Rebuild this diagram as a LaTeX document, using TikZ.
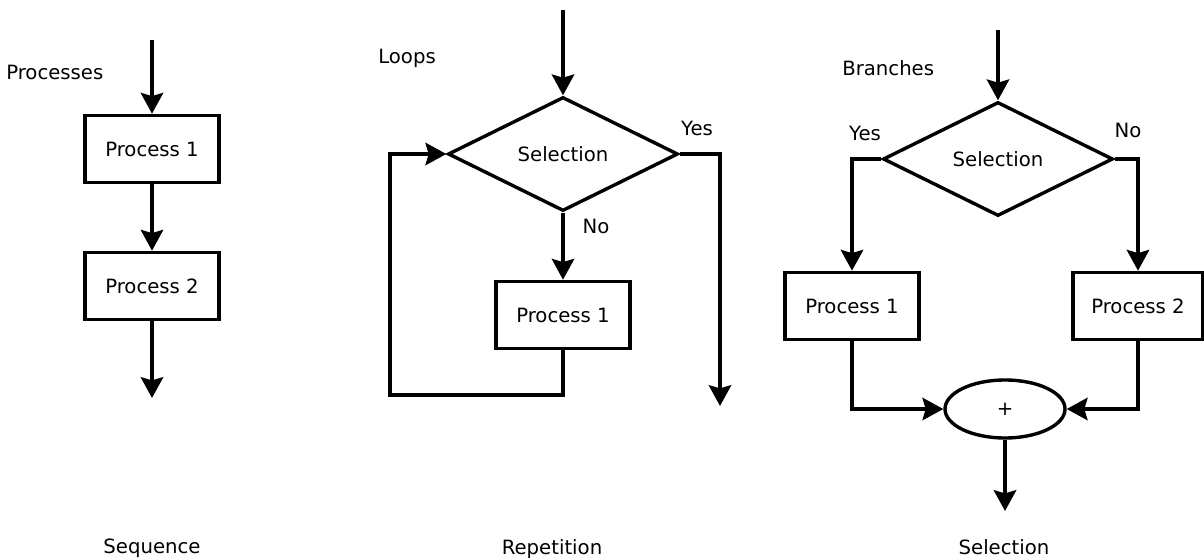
\documentclass[tikz,border=0pt]{standalone}
\usepackage{fontspec}
\setmainfont{DejaVu Sans}
\usepackage{tikz}
\usepackage{xcolor}
\usetikzlibrary{arrows.meta, positioning, shapes.geometric, calc}
\definecolor{chartInk}{RGB}{0,0,0}
\tikzset{
    procbox/.style={
        rectangle,
        draw=chartInk,
        line width=0.85mm,
        align=center,
        fill=white,
        minimum width=3.35cm,
        minimum height=1.68cm,
        font=\fontsize{14}{16}\selectfont
    },
    decisionbox/.style={
        diamond,
        draw=chartInk,
        line width=0.85mm,
        inner sep=0pt,
        align=center,
        minimum width=5.75cm,
        minimum height=2.85cm,
        font=\fontsize{14}{16}\selectfont
    },
    joinbox/.style={
        ellipse,
        draw=chartInk,
        line width=0.85mm,
        inner sep=0pt,
        minimum width=3.0cm,
        minimum height=1.45cm,
        font=\fontsize{14}{16}\selectfont
    },
    flowarrow/.style={-{Stealth[length=5.2mm, width=5.6mm, inset=0.8mm]}, line width=0.85mm, draw=chartInk, line join=miter},
    flowline/.style={line width=0.85mm, draw=chartInk},
    caption/.style={font=\fontsize{14}{16}\selectfont, inner sep=0pt}
}

\begin{document}
\begin{tikzpicture}[x=0.025cm, y=-0.025cm]
    \useasboundingbox (0,0) rectangle (1204,558);

    % sequence
    \node[caption, anchor=west] (seqTitle) at (6,72) {Processes};
    \coordinate (seqStart) at (152,40);
    \node[procbox] (seqP1) at (152,149) {Process 1};
    \node[procbox] (seqP2) at (152,286) {Process 2};
    \coordinate (seqEnd) at (152,398);
    \node[caption] (seqName) at (152,548) {Sequence};
    \draw[flowarrow] (seqStart) -- (seqP1);
    \draw[flowarrow] (seqP1) -- (seqP2);
    \draw[flowarrow] (seqP2) -- (seqEnd);

    % repetition
    \node[caption, anchor=west] (repTitle) at (378,58) {Loops};
    \coordinate (repStart) at (563,10);
    \node[decisionbox] (repD) at (563,154) {Selection};
    \node[procbox] (repP1) at (563,315) {Process 1};
    \coordinate (repLoop) at (390,395);
    \coordinate (repEnd) at (720,406);
    \node[caption] (repYes) at (697,128) {Yes};
    \node[caption] (repNo) at (596,226) {No};
    \node[caption] (repName) at (552,549) {Repetition};
    \draw[flowarrow] (repStart) -- (repD);
    \draw[flowarrow] (repD) -- (repP1);
    \draw[flowarrow] (repP1.south) |- (repLoop) |- (repD.west);
    \draw[flowarrow] (repD.east) -| (repEnd);

    % selection
    \node[caption, anchor=west] (selTitle) at (842,68) {Branches};
    \coordinate (selStart) at (998,30);
    \node[decisionbox] (selD) at (998,159) {Selection};
    \node[procbox] (selP1) at (852,306) {Process 1};
    \node[procbox, minimum width=3.25cm] (selP2) at (1138,306) {Process 2};
    \node[joinbox] (selSum) at (1005,409) {+};
    \coordinate (selEnd) at (1005,511);
    \node[caption] (selYes) at (865,133) {Yes};
    \node[caption] (selNo) at (1128,130) {No};
    \node[caption] (selName) at (1004,547) {Selection};
    \draw[flowarrow] (selStart) -- (selD);
    \draw[flowarrow] (selD.west) -| (selP1.north);
    \draw[flowarrow] (selD.east) -| (selP2.north);
    \draw[flowarrow] (selP1.south) |- (selSum.west);
    \draw[flowarrow] (selP2.south) |- (selSum.east);
    \draw[flowarrow] (selSum) -- (selEnd);
\end{tikzpicture}
\end{document}
